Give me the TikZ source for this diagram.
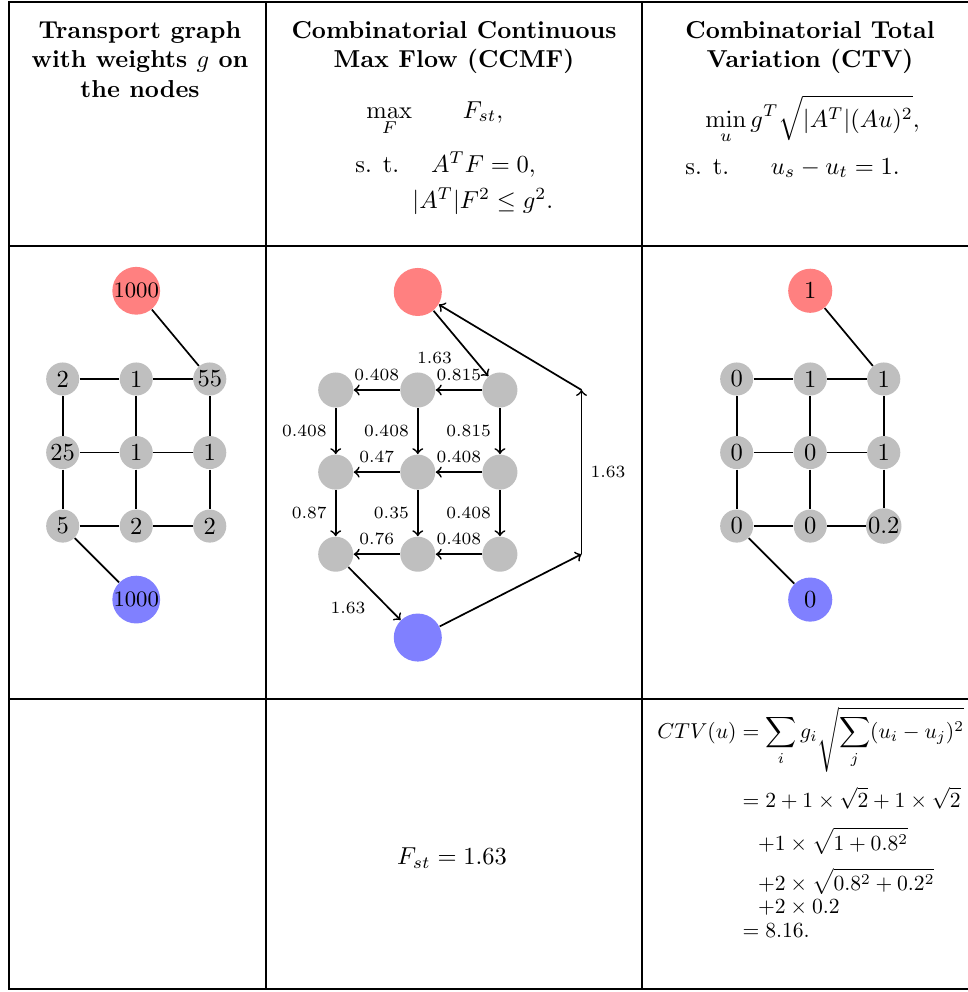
\documentclass[tikz,border=0pt]{standalone}
\usepackage{amsmath,amssymb}
\usepackage{graphicx}
\usetikzlibrary{positioning}

\begin{document}
\begin{tikzpicture}[x=0.408pt, y=-0.408pt, on grid,
      vtx/.style={circle, fill=gray!50, inner sep=0pt, minimum size=13.5pt},
      src/.style={circle, fill=red!50, inner sep=0pt, minimum size=18pt},
      snk/.style={circle, fill=blue!50, inner sep=0pt, minimum size=18pt},
      link/.style={line width=0.7pt},
      flow/.style={line width=0.7pt, ->},
      lab/.style={font=\scriptsize},
      hdr/.style={align=center, font=\bfseries, inner sep=0pt, anchor=north},
      eq/.style={anchor=base west, inner sep=0pt},
      tbl/.style={line width=0.8pt}
    ]
    \useasboundingbox (0,0) rectangle (968,992);

    % --- table rules ---
    \draw[tbl] (968,1.7) -- (8.8,1.7) -- (8.8,988.8) -- (968,988.8);
    \draw[tbl] (8.8,245.6) -- (968,245.6);
    \draw[tbl] (8.8,699) -- (968,699);
    \draw[tbl] (266,1.7) -- (266,988.8);
    \draw[tbl] (642,1.7) -- (642,988.8);

    % --- header row ---
    \node[hdr] (h1) at (140,21) {Transport graph\\with weights $g$ on\\the nodes};
    \node[hdr] (h2) at (454,21) {Combinatorial Continuous\\Max Flow (CCMF)};
    \node[hdr] (h3) at (810,21) {Combinatorial Total\\Variation (CTV)};

    \node[eq] (maxf) at (366,118) {$\displaystyle\max_F \hspace{19pt} F_{st},$};
    \node[eq] (cons1) at (355,172) {$\text{s. t.}\hspace{13pt}A^T F = 0,$};
    \node[eq] (cons2) at (412,208) {$|A^T|F^2 \le g^2.$};
    \node[eq] (minu) at (705,127) {$\displaystyle\min_u g^T\sqrt{|A^T|(Au)^2},$};
    \node[eq] (cons3) at (685,174) {$\text{s. t.}\hspace{17pt}u_s - u_t = 1.$};

    % --- (a) transport graph ---
    \node[vtx] (l11) at (62.7,379) {2};
    \node[vtx, right=30pt of l11] (l12) {1};
    \node[vtx, right=30pt of l12] (l13) {55};
    \node[vtx, below=30pt of l11] (l21) {25};
    \node[vtx, right=30pt of l21] (l22) {1};
    \node[vtx, right=30pt of l22] (l23) {1};
    \node[vtx, below=30pt of l21] (l31) {5};
    \node[vtx, right=30pt of l31] (l32) {2};
    \node[vtx, right=30pt of l32] (l33) {2};
    \node[src, above=36pt of l12, font=\small] (ls) {1000};
    \node[snk, below=30pt of l32, font=\small] (lt) {1000};

    \draw[link] (l11) -- (l12) -- (l13);
    \draw[link] (l21) -- (l22) -- (l23);
    \draw[link] (l31) -- (l32) -- (l33);
    \draw[link] (l11) -- (l21) -- (l31);
    \draw[link] (l12) -- (l22) -- (l32);
    \draw[link] (l13) -- (l23) -- (l33);
    \draw[link] (ls) -- (l13);
    \draw[link] (l31) -- (lt);

    % --- (b) max flow ---
    \begin{scope}[vtx/.append style={minimum size=14.3pt},
        src/.append style={minimum size=19.6pt},
        snk/.append style={minimum size=19.6pt}]
      \node[vtx] (m11) at (335.7,390) {};
      \node[vtx, right=33.5pt of m11] (m12) {};
      \node[vtx, right=33.5pt of m12] (m13) {};
      \node[vtx, below=33.5pt of m11] (m21) {};
      \node[vtx, right=33.5pt of m21] (m22) {};
      \node[vtx, right=33.5pt of m22] (m23) {};
      \node[vtx, below=33.5pt of m21] (m31) {};
      \node[vtx, right=33.5pt of m31] (m32) {};
      \node[vtx, right=33.5pt of m32] (m33) {};
      \node[src, above=40pt of m12] (ms) {};
      \node[snk, below=34pt of m32] (mt) {};
      \coordinate[right=33.3pt of m13] (ct);
      \coordinate[right=33.3pt of m33] (cb);

      \draw[flow] (ms) -- node[lab, below left] {1.63} (m13);
      \draw[flow] (m13) -- node[lab, above] {0.815} (m12);
      \draw[flow] (m12) -- node[lab, above] {0.408} (m11);
      \draw[flow] (m23) -- node[lab, above] {0.408} (m22);
      \draw[flow] (m22) -- node[lab, above] {0.47} (m21);
      \draw[flow] (m33) -- node[lab, above] {0.408} (m32);
      \draw[flow] (m32) -- node[lab, above] {0.76} (m31);
      \draw[flow] (m11) -- node[lab, left] {0.408} (m21);
      \draw[flow] (m12) -- node[lab, left] {0.408} (m22);
      \draw[flow] (m13) -- node[lab, left] {0.815} (m23);
      \draw[flow] (m21) -- node[lab, left] {0.87} (m31);
      \draw[flow] (m22) -- node[lab, left] {0.35} (m32);
      \draw[flow] (m23) -- node[lab, left] {0.408} (m33);
      \draw[flow] (m31) -- node[lab, below left] {1.63} (mt);
      \draw[flow] (mt) -- (cb);
      \draw[flow] (cb) -- node[lab, right] {1.63} (ct);
      \draw[flow] (ct) -- (ms);
    \end{scope}

    % --- (c) total variation ---
    \node[vtx] (r11) at (736.7,379) {0};
    \node[vtx, right=30pt of r11] (r12) {1};
    \node[vtx, right=30pt of r12] (r13) {1};
    \node[vtx, below=30pt of r11] (r21) {0};
    \node[vtx, right=30pt of r21] (r22) {0};
    \node[vtx, right=30pt of r22] (r23) {1};
    \node[vtx, below=30pt of r21] (r31) {0};
    \node[vtx, right=30pt of r31] (r32) {0};
    \node[vtx, right=30pt of r32] (r33) {0.2};
    \node[src, above=36pt of r12] (rs) {1};
    \node[snk, below=30pt of r32] (rt) {0};

    \draw[link] (r11) -- (r12) -- (r13);
    \draw[link] (r21) -- (r22) -- (r23);
    \draw[link] (r31) -- (r32) -- (r33);
    \draw[link] (r11) -- (r21) -- (r31);
    \draw[link] (r12) -- (r22) -- (r32);
    \draw[link] (r13) -- (r23) -- (r33);
    \draw[link] (rs) -- (r13);
    \draw[link] (r31) -- (rt);

    % --- bottom row ---
    \node (fst) at (452,858) {$F_{st} = 1.63$};
    \node[eq] (ctv) at (657,738) {\scalebox{0.88}{$\setlength{\jot}{0pt}\begin{aligned}[t]
        CTV(u) &= \sum_i g_i \sqrt{\sum_j (u_i - u_j)^2}\\[5.9pt]
        &= 2 + 1\times\sqrt{2} + 1\times\sqrt{2}\\[4.6pt]
        &\quad{+}1\times\sqrt{1+0.8^2}\\[3.5pt]
        &\quad{+}2\times\sqrt{0.8^2+0.2^2}\\[-1.5pt]
        &\quad{+}2\times 0.2\\[-0.8pt]
        &= 8.16.
      \end{aligned}$}};
  \end{tikzpicture}
\end{document}
